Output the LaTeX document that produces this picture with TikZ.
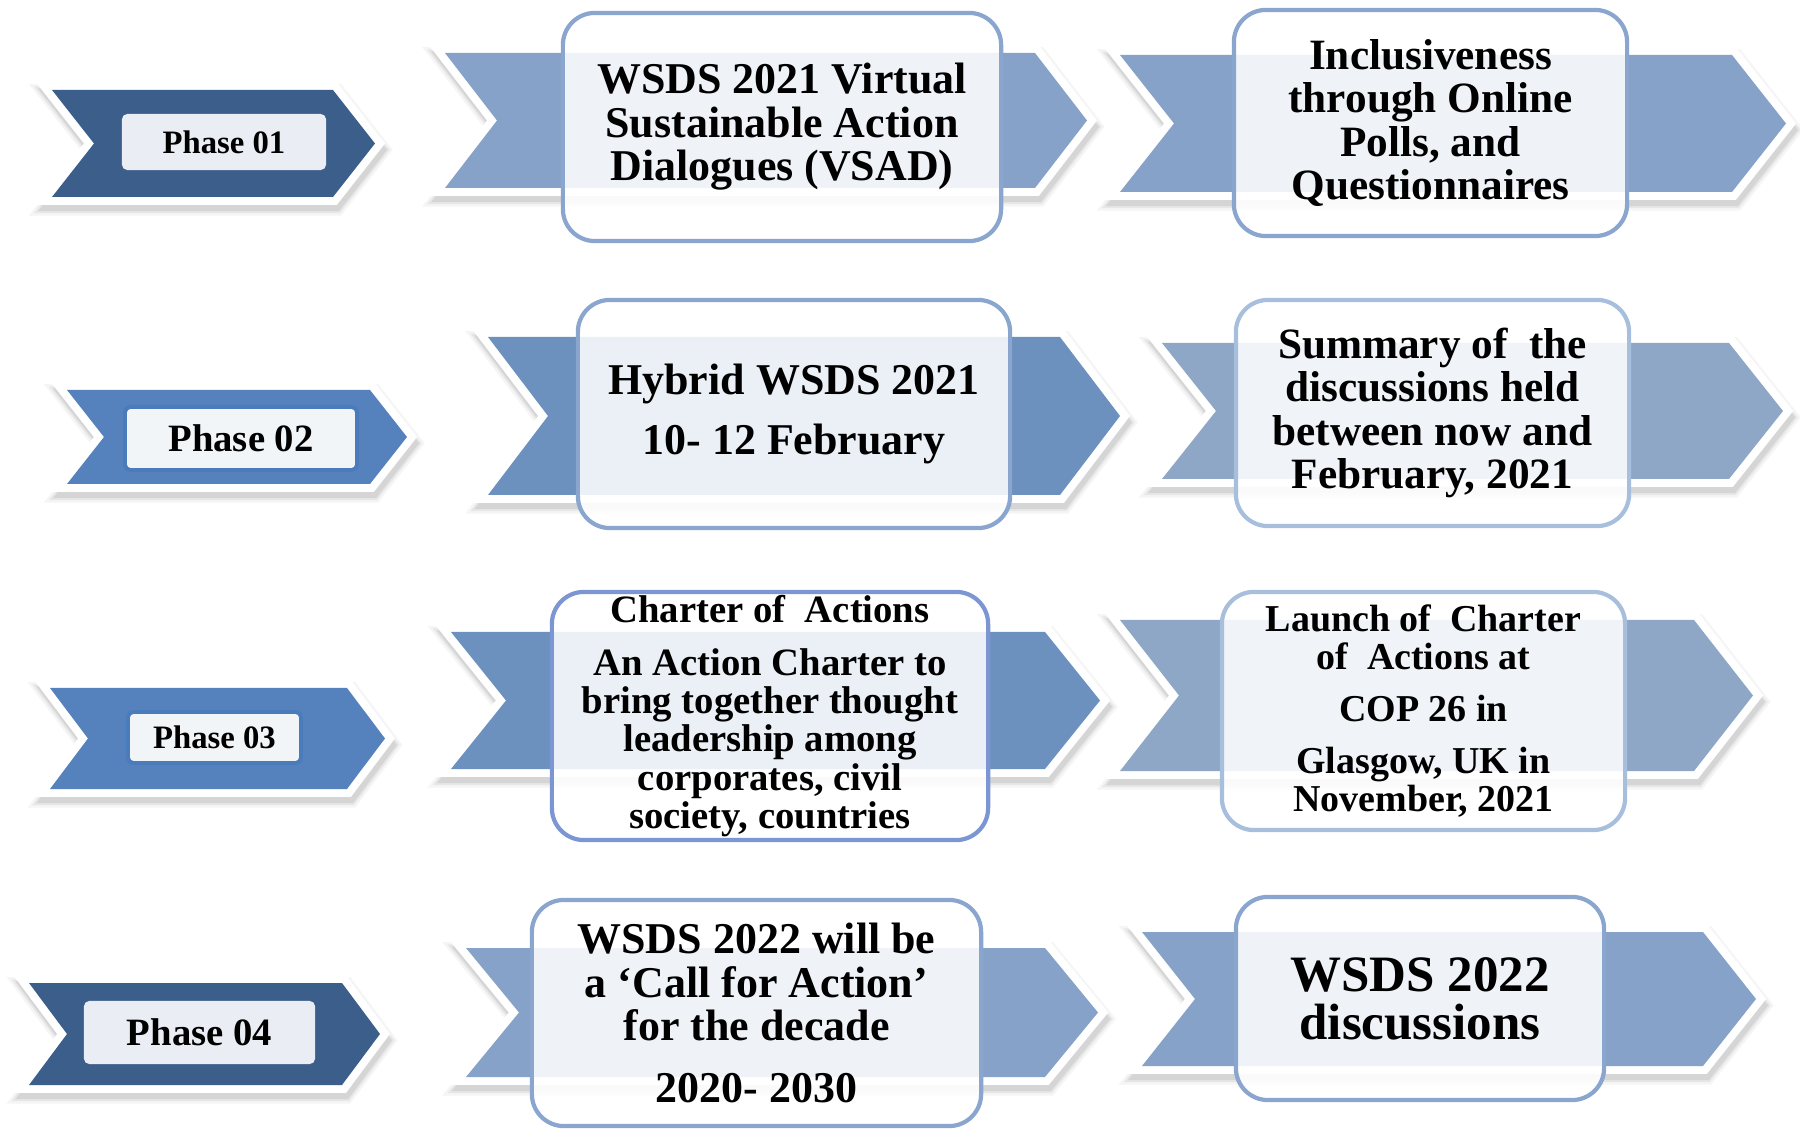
\documentclass[tikz,border=0pt]{standalone}
\usepackage{fontspec}
\setmainfont{Liberation Serif}
\definecolor{phasedark}{HTML}{3B5F8A}
\definecolor{phasemid}{HTML}{5582BC}
\definecolor{arrowlight}{HTML}{87A2C8}
\definecolor{arrowmid}{HTML}{6C91BE}
\definecolor{arrowpale}{HTML}{8EA7C6}
\definecolor{boxline}{HTML}{8AA6CE}
\definecolor{boxpale}{HTML}{A7BFDD}
\definecolor{tagfill}{HTML}{EAEEF4}
\definecolor{tagline}{HTML}{4A7CBB}

\begin{document}
\begin{tikzpicture}[x=0.01cm,y=-0.01cm,line join=miter,
	chevron/.style={
		preaction={draw=black,fill=black,opacity=.04,line width=7pt,transform canvas={xshift=.6pt,yshift=-1.8pt}},
		preaction={draw=black,fill=black,opacity=.06,line width=5.6pt,transform canvas={xshift=.6pt,yshift=-1.8pt}},
		preaction={draw=black,fill=black,opacity=.08,line width=4.5pt,transform canvas={xshift=.6pt,yshift=-1.8pt}},
		preaction={draw=white,line width=4.5pt}},
	stepcard/.style={draw=boxline,line width=1.2pt,rounded corners=0.32cm,fill=white,fill opacity=.87,text opacity=1,align=center,inner sep=0pt},
	phasetag/.style={fill=tagfill,rounded corners=1.5pt,inner sep=0pt}]
		\useasboundingbox (0,0) rectangle (1800,1131);
		% chevrons: left, body end, top, bottom, notch depth, colour
		\foreach \xl/\xe/\yt/\yb/\d/\col in {52/333/90/197/42/phasedark, 67/370/390/484/37/phasemid,
			50/347/688/789/38/phasemid, 29/342/983/1085/38/phasedark,
			445/1035/53/188/52/arrowlight, 1120/1732/55/192/54/arrowlight,
			488/1060/337/495/60/arrowmid, 1162/1729/343/479/54/arrowpale,
			451/1045/632/769/55/arrowmid, 1120/1694/620/771/59/arrowpale,
			466/1045/948/1077/53/arrowlight, 1142/1703/932/1066/53/arrowlight}
		{
			\fill[chevron,fill=\col] (\xl,\yt) -- (\xe,\yt) -- ({\xe+\d},{(\yt+\yb)/2}) -- (\xe,\yb)
				-- (\xl,\yb) -- ({\xl+\d},{(\yt+\yb)/2}) -- cycle;
		}
		
		\node[phasetag,minimum width=2.04cm,minimum height=0.56cm,font=\bfseries\fontsize{9.3}{11}\selectfont] (phase1) at (224,142) {Phase 01};
		\node[phasetag,draw=tagline,line width=1.1pt,fill=tagfill!60!white,minimum width=2.32cm,minimum height=0.63cm,font=\bfseries\fontsize{11}{13}\selectfont] (phase2) at (241,438.5) {Phase 02};
		\node[phasetag,draw=tagline,line width=1.1pt,fill=tagfill!60!white,minimum width=1.73cm,minimum height=0.51cm,font=\bfseries\fontsize{9.3}{11}\selectfont] (phase3) at (214.5,737.5) {Phase 03};
		\node[phasetag,minimum width=2.31cm,minimum height=0.63cm,font=\bfseries\fontsize{11}{13}\selectfont] (phase4) at (199.5,1032.5) {Phase 04};
		
		\node[stepcard,minimum width=4.38cm,minimum height=2.28cm,font=\bfseries\fontsize{12.5}{12.4}\selectfont] (vsad) at (782,127)
			{WSDS 2021 Virtual\\Sustainable Action\\Dialogues (VSAD)};
		\node[stepcard,minimum width=3.93cm,minimum height=2.26cm,font=\bfseries\fontsize{12.3}{12.3}\selectfont] (polls) at (1430.5,123)
			{Inclusiveness\\through Online\\Polls, and\\Questionnaires};
		\node[stepcard,minimum width=4.32cm,minimum height=2.28cm,font=\bfseries\fontsize{12.5}{17.1}\selectfont] (hybrid) at (794,414)
			{Hybrid WSDS 2021\\10- 12 February};
		\node[stepcard,draw=boxpale,minimum width=3.93cm,minimum height=2.26cm,font=\bfseries\fontsize{12.3}{12.3}\selectfont] (summary) at (1432.5,413)
			{Summary of~ the\\discussions held\\between now and\\February, 2021};
		\node[stepcard,draw=boxline!90!blue,minimum width=4.36cm,minimum height=2.48cm,font=\bfseries\fontsize{11}{10.9}\selectfont] (charter) at (770,716)
			{Charter of~ Actions\\[4.2pt]An Action Charter to\\bring together thought\\leadership among\\corporates, civil\\society, countries};
		\node[stepcard,draw=boxpale,minimum width=4.03cm,minimum height=2.38cm,font=\bfseries\fontsize{10.8}{10.8}\selectfont] (launch) at (1423.5,711)
			{Launch of~ Charter\\of~ Actions at\\[4pt]COP 26 in\\[4.2pt]Glasgow, UK in\\November, 2021};
		\node[stepcard,minimum width=4.49cm,minimum height=2.26cm,font=\bfseries\fontsize{12.5}{12.4}\selectfont] (callaction) at (756.5,1013)
			{WSDS 2022 will be\\a ‘Call for Action’\\for the decade\\[5.2pt]2020- 2030};
		\node[stepcard,minimum width=3.68cm,minimum height=2.03cm,font=\bfseries\fontsize{14.5}{13.7}\selectfont] (wsds22) at (1420,998.5)
			{WSDS 2022\\discussions};
\end{tikzpicture}
\end{document}
